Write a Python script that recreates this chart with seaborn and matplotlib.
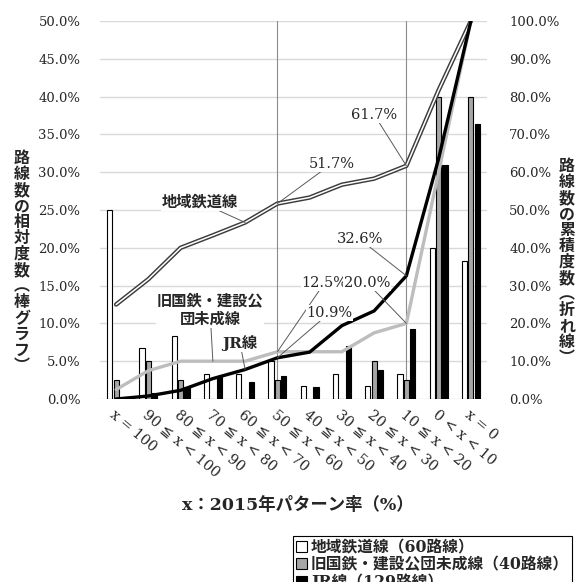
import numpy as np
import pandas as pd
import seaborn as sns
import matplotlib
matplotlib.use("Agg")
import matplotlib.pyplot as plt
from matplotlib.patches import Patch
from matplotlib.font_manager import FontProperties

# 2015年パターン率の階級
categories = ["x = 100", "90 ≦ x < 100", "80 ≦ x < 90", "70 ≦ x < 80",
              "60 ≦ x < 70", "50 ≦ x < 60", "40 ≦ x < 50", "30 ≦ x < 40",
              "20 ≦ x < 30", "10 ≦ x < 20", "0 < x < 10", "x = 0"]
series_names = ["地域鉄道線（60路線）", "旧国鉄・建設公団未成線（40路線）", "JR線（129路線）"]

# 相対度数（%、棒グラフ）
local_rel = [25.0, 6.7, 8.3, 3.3, 3.3, 5.0, 1.7, 3.3, 1.7, 3.3, 20.0, 18.3]
jnr_rel = [2.5, 5.0, 2.5, 0.0, 0.0, 2.5, 0.0, 0.0, 5.0, 2.5, 40.0, 40.0]
jr_rel = [0.0, 0.8, 1.6, 3.1, 2.3, 3.1, 1.6, 7.0, 3.9, 9.3, 31.0, 36.4]

# 累積度数（%、折れ線）
local_cum = [25.0, 31.7, 40.0, 43.3, 46.7, 51.7, 53.3, 56.7, 58.3, 61.7, 81.7, 100.0]
jnr_cum = [2.5, 7.5, 10.0, 10.0, 10.0, 12.5, 12.5, 12.5, 17.5, 20.0, 60.0, 100.0]
jr_cum = [0.0, 0.8, 2.3, 5.4, 7.8, 10.9, 12.4, 19.4, 23.3, 32.6, 63.6, 100.0]

sns.set_theme(style="white")
plt.rcParams['font.family'] = ['DejaVu Serif', 'DejaVu Sans', 'Noto Sans CJK JP']
NUM_FONT = ['DejaVu Serif', 'DejaVu Sans', 'Noto Sans CJK JP']
JP_FONT = ['Noto Sans CJK JP', 'DejaVu Sans']
MIX_FONT = ['DejaVu Serif', 'Noto Sans CJK JP', 'DejaVu Sans']

fig = plt.figure(figsize=(5.79, 5.82), dpi=100)
ax = fig.add_axes([100 / 579, 1 - 399 / 582, 387 / 579, 378 / 582])

df = pd.DataFrame({
    "区分": categories * 3,
    "系列": np.repeat(series_names, len(categories)),
    "相対度数": local_rel + jnr_rel + jr_rel,
})

sns.barplot(data=df, x="区分", y="相対度数", hue="系列", order=categories,
            hue_order=series_names, palette=["white", "#a6a6a6", "black"],
            width=0.6, gap=0.2, edgecolor="black", linewidth=0.8,
            legend=False, ax=ax, zorder=2)

ax.set_xlim(-0.5, len(categories) - 0.5)
ax.set_ylim(0, 50)
ax.set_yticks(np.arange(0, 51, 5))
ax.set_yticklabels([f"{v:.1f}%" for v in np.arange(0, 51, 5)], fontsize=9.5)
ax.yaxis.grid(True, color="#d9d9d9", lw=1.0)
ax.xaxis.grid(False)
ax.set_axisbelow(True)
for s in ax.spines.values():
    s.set_visible(False)
ax.tick_params(axis="both", length=0)
ax.tick_params(axis="y", pad=14)
ax.set_xlabel("")
ax.set_ylabel("")

xpos = np.arange(len(categories))
ax.set_xticks(xpos)
ax.set_xticklabels(categories, rotation=-40, ha="left", va="top",
                   rotation_mode="anchor", fontsize=10.3, family=NUM_FONT)
ax.tick_params(axis="x", pad=6)

# 注目階級の縦線
for i in (5, 9):
    ax.axvline(i, color="#8c8c8c", lw=0.8, zorder=1.5)

# 累積度数（右軸）
ax2 = ax.twinx()
ax2.set_ylim(0, 100)
ax2.set_yticks(np.arange(0, 101, 10))
ax2.set_yticklabels([f"{v:.1f}%" for v in np.arange(0, 101, 10)], fontsize=9.5)
ax2.tick_params(axis="y", length=0, pad=16)
for s in ax2.spines.values():
    s.set_visible(False)
ax2.grid(False)

sns.lineplot(x=xpos, y=local_cum, ax=ax2, color="#3c3c3c", lw=3.2)
sns.lineplot(x=xpos, y=local_cum, ax=ax2, color="white", lw=1.1)
sns.lineplot(x=xpos, y=jnr_cum, ax=ax2, color="#bdbdbd", lw=2.4)
sns.lineplot(x=xpos, y=jr_cum, ax=ax2, color="black", lw=2.4)
ax2.set_ylabel("")

leader = dict(arrowstyle="-", color="#595959", lw=0.7, shrinkA=0, shrinkB=0)
box = dict(fc="white", ec="none", pad=0.5)

# 累積値のラベル
value_labels = [
    (5, local_cum, (6.68, 62.2)),
    (9, local_cum, (8.01, 75.1)),
    (9, jr_cum, (7.55, 42.3)),
    (5, jnr_cum, (6.46, 30.7)),
    (9, jnr_cum, (7.79, 30.7)),
    (5, jr_cum, (6.62, 22.8)),
]
for i, series, pos in value_labels:
    ax2.annotate(f"{series[i]:.1f}%", xy=(i, series[i]), xytext=pos,
                 ha="center", va="center", fontsize=10.5, family=NUM_FONT,
                 bbox=box, arrowprops=leader)

# 系列名のラベル
ax2.annotate("地域鉄道線", xy=(4, local_cum[4]), xytext=(2.6, 52.1),
             ha="center", va="center", fontsize=11, weight="bold",
             family=JP_FONT, bbox=box, arrowprops=leader)
ax2.annotate("旧国鉄・建設公\n団未成線", xy=(3, jnr_cum[3]), xytext=(2.91, 23.6),
             ha="center", va="center", fontsize=11, weight="bold",
             family=JP_FONT, linespacing=1.2, bbox=box, arrowprops=leader)
ax2.annotate("JR線", xy=(4, jr_cum[4]), xytext=(3.84, 14.8),
             ha="center", va="center", fontsize=11, weight="bold",
             family=MIX_FONT, bbox=box, arrowprops=leader)

# 軸タイトル（縦書き）
left_title = "路線数の相対度数︵棒グラフ︶"
right_title = "路線数の累積度数︵折れ線︶"
fig.text(22 / 579, 1 - 262 / 582, "\n".join(left_title), ha="center", va="center",
         fontsize=11.5, weight="bold", family=JP_FONT, linespacing=1.0)
fig.text(567 / 579, 1 - 262 / 582, "\n".join(right_title), ha="center", va="center",
         fontsize=11.5, weight="bold", family=JP_FONT, linespacing=1.0)

fig.text(298 / 579, 1 - 505 / 582, "x：2015年パターン率（%）", ha="center", va="center",
         fontsize=12.5, weight="bold", family=MIX_FONT)

handles = [Patch(facecolor=c, edgecolor="black", lw=0.8)
           for c in ["white", "#a6a6a6", "black"]]
leg = fig.legend(handles, series_names, loc="upper left",
                 bbox_to_anchor=(293 / 579, 1 - 536 / 582), frameon=True,
                 fancybox=False, edgecolor="black", framealpha=1,
                 borderpad=0.2, labelspacing=0.0, handlelength=0.7,
                 handleheight=0.7, handletextpad=0.25, borderaxespad=0,
                 prop=FontProperties(family=MIX_FONT, size=11.3, weight="bold"))
leg.get_frame().set_linewidth(0.8)

fig.savefig("out.png", dpi=100)
